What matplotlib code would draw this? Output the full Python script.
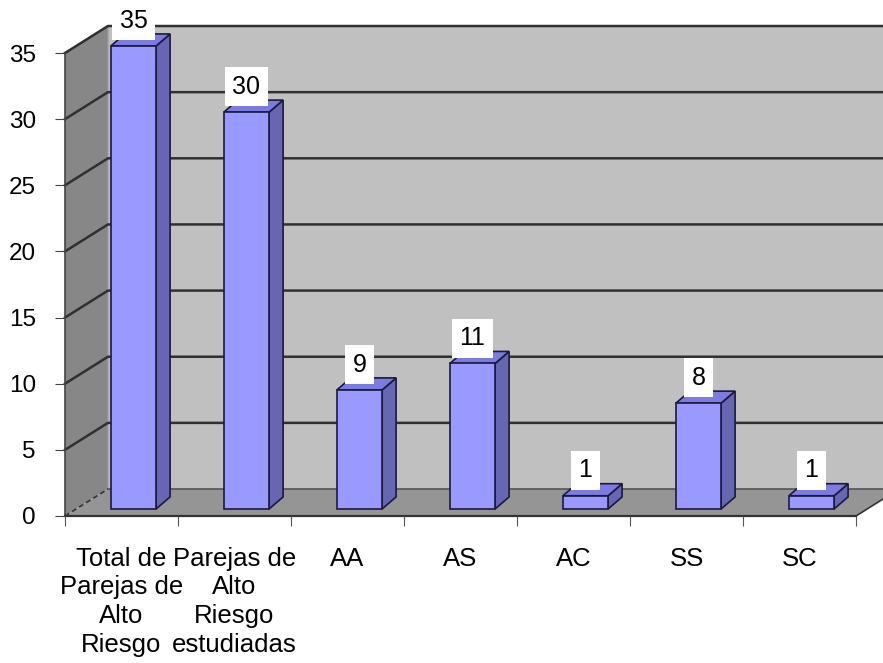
import numpy as np
import matplotlib.pyplot as plt
from matplotlib.patches import Polygon

plt.rcParams['font.family'] = ['Liberation Sans', 'DejaVu Sans']

# datos
categorias = ['Total de\nParejas de\nAlto\nRiesgo', 'Parejas de\nAlto\nRiesgo\nestudiadas',
              'AA', 'AS', 'AC', 'SS', 'SC']
valores = [35, 30, 9, 11, 1, 8, 1]
yticks = [0, 5, 10, 15, 20, 25, 30, 35]

# geometria del efecto 3D (en unidades de datos)
wall_dx, wall_dy = 0.38, 2.04   # profundidad de la pared del fondo
bar_off_x, bar_off_y = 0.106, 0.53  # barras a media profundidad
bar_dx, bar_dy = 0.124, 0.91    # profundidad de la barra
bar_w = 0.40
ymax = 35

fig = plt.figure(figsize=(8.83, 6.63), dpi=100)
# eje frontal: x 65..856 px, y 516..53 px
ax = fig.add_axes([65 / 883, (663 - 516) / 663, 791 / 883, 463 / 663])
n = len(valores)
ax.set_xlim(0, n)
ax.set_ylim(0, ymax)
ax.patch.set_visible(False)

wall_c = '#c0c0c0'
side_c = '#878787'
floor_c = '#959595'

# pared del fondo
ax.add_patch(Polygon([(wall_dx, wall_dy), (n + wall_dx + 1, wall_dy),
                      (n + wall_dx + 1, ymax + wall_dy), (wall_dx, ymax + wall_dy)],
                     closed=True, facecolor=wall_c, edgecolor='none', clip_on=False, zorder=0))
# pared lateral
ax.add_patch(Polygon([(0, 0), (wall_dx, wall_dy), (wall_dx, ymax + wall_dy), (0, ymax)],
                     closed=True, facecolor=side_c, edgecolor='none', clip_on=False, zorder=0))
# piso
ax.add_patch(Polygon([(0, 0), (n, 0), (n + wall_dx, wall_dy), (wall_dx, wall_dy)],
                     closed=True, facecolor=floor_c, edgecolor='none', clip_on=False, zorder=0.5))
ax.plot([n, n + wall_dx], [0, wall_dy], color='#333333', lw=1.2, clip_on=False, zorder=0.6)

# lineas de cuadricula
for yv in yticks[1:]:
    ax.plot([0, wall_dx, n + wall_dx + 1], [yv, yv + wall_dy, yv + wall_dy],
            color='#303030', lw=1.8, clip_on=False, zorder=0.4)
ax.plot([wall_dx, n + wall_dx], [wall_dy, wall_dy], color='#555555', lw=1.2, clip_on=False, zorder=0.6)
ax.plot([0, wall_dx], [0, wall_dy], color='#333333', lw=1.2, ls=(0, (3, 2)), clip_on=False, zorder=0.6)
ax.plot([wall_dx, wall_dx], [wall_dy, ymax + wall_dy], color='#aaaaaa', lw=1.0, clip_on=False, zorder=0.3)

# barras
front_c = '#9999ff'
lado_c = '#6666b3'
top_c = '#7b7be0'
for i, v in enumerate(valores):
    xc = i + 0.5 + bar_off_x
    xl, xr = xc - bar_w / 2, xc + bar_w / 2
    y0, y1 = bar_off_y, v + bar_off_y
    kw = dict(closed=True, edgecolor='#1a1a40', lw=1.2, clip_on=False, zorder=2)
    ax.add_patch(Polygon([(xr, y0), (xr + bar_dx, y0 + bar_dy), (xr + bar_dx, y1 + bar_dy), (xr, y1)],
                         facecolor=lado_c, **kw))
    ax.add_patch(Polygon([(xl, y1), (xr, y1), (xr + bar_dx, y1 + bar_dy), (xl + bar_dx, y1 + bar_dy)],
                         facecolor=top_c, **kw))
    ax.add_patch(Polygon([(xl, y0), (xr, y0), (xr, y1), (xl, y1)], facecolor=front_c, **kw))
    ax.annotate(str(v), (xc, y1 + bar_dy), xytext=(0, 1), textcoords='offset points',
                ha='center', va='bottom', fontsize=18, zorder=3, annotation_clip=False,
                bbox=dict(boxstyle='square,pad=0.3', facecolor='white', edgecolor='none'))

# ejes
for s in ['top', 'right']:
    ax.spines[s].set_visible(False)
ax.spines['left'].set_color('#444444')
ax.spines['bottom'].set_color('#333333')
ax.spines['left'].set_linewidth(1.2)
ax.spines['bottom'].set_linewidth(1.6)
ax.spines['left'].set_zorder(1)
ax.spines['bottom'].set_zorder(1)

ax.set_yticks(yticks)
ax.tick_params(axis='y', length=7, pad=14, labelsize=17.5, color='#444444')
ax.set_xticks(np.arange(n + 1))
ax.set_xticklabels([])
ax.tick_params(axis='x', which='major', length=7, color='#555555')
ax.set_xticks(np.arange(n) + 0.5, minor=True)
ax.set_xticklabels(categorias, minor=True, fontsize=18.5, linespacing=1.25)
ax.tick_params(axis='x', which='minor', length=0, pad=22)

fig.savefig('out.png', dpi=100)
